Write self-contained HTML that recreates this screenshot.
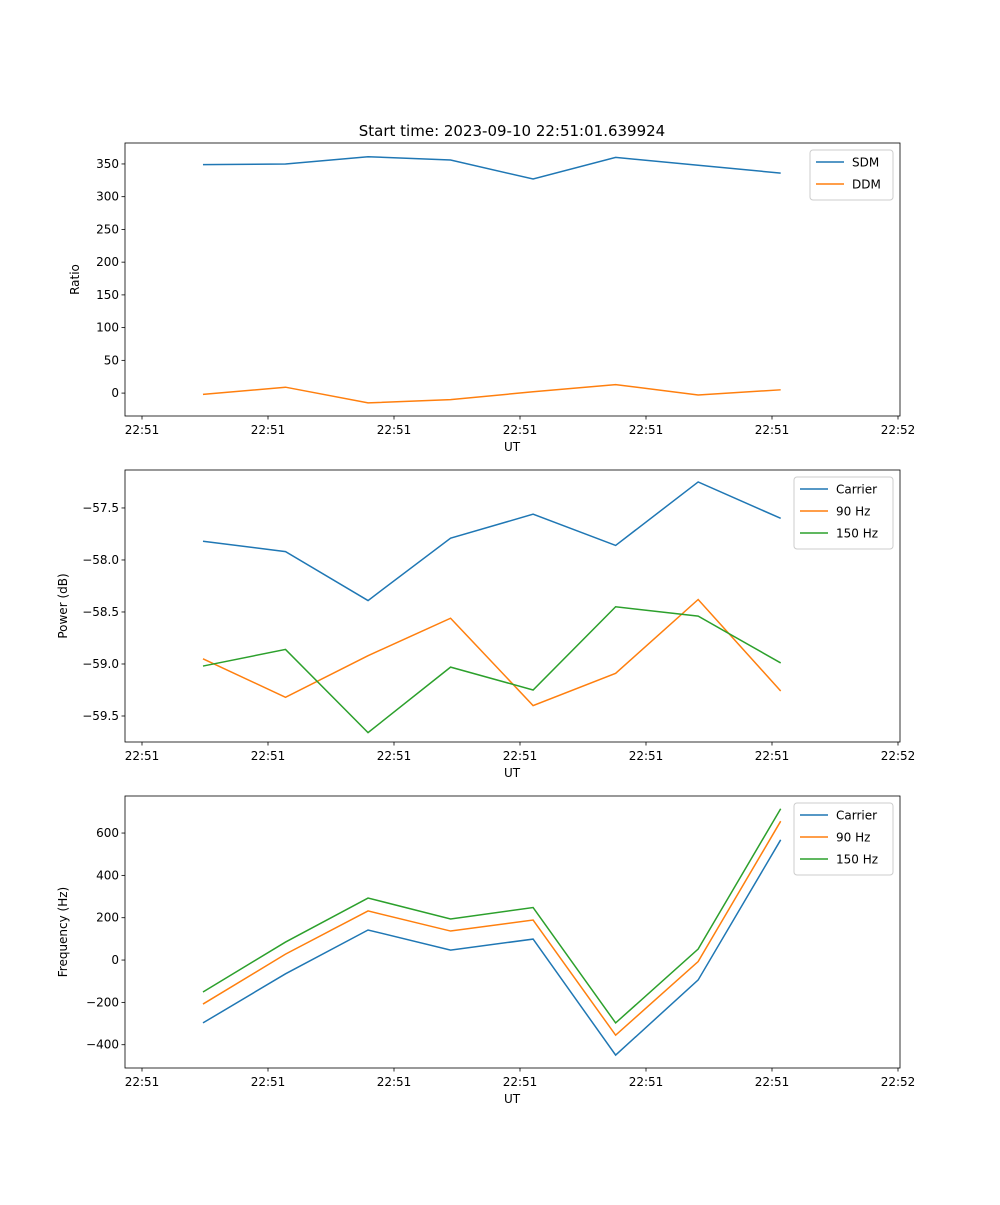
<!DOCTYPE html>
<html><head><meta charset="utf-8"><style>
body{margin:0;background:#fff}
svg{font-family:"DejaVu Sans","Liberation Sans",sans-serif}
</style></head><body>
<svg id="c" width="1000" height="1200" xmlns="http://www.w3.org/2000/svg">
<text x="512" y="136" text-anchor="middle" font-size="15">Start time: 2023-09-10 22:51:01.639924</text>
</svg>
<script>
const times=[4.84,11.39,17.94,24.49,31.04,37.59,44.14,50.69];
const xTickVals=[0,10,20,30,40,50,60];
const xTickLabels=["22:51","22:51","22:51","22:51","22:51","22:51","22:52"];
const sdm=[349,350,361,356,327,360,348,336];
const ddm=[-2,9,-15,-10,2,13,-3,5];
const pCarrier=[-57.82,-57.92,-58.39,-57.79,-57.56,-57.86,-57.25,-57.60];
const p90=[-58.95,-59.32,-58.92,-58.56,-59.40,-59.09,-58.38,-59.26];
const p150=[-59.02,-58.86,-59.66,-59.03,-59.25,-58.45,-58.54,-58.99];
const fCarrier=[-297,-65,142,47,99,-449,-94,568];
const f90=[-208,28,232,137,189,-355,-7,656];
const f150=[-151,85,293,194,248,-297,52,715];
const ticks1=[0,50,100,150,200,250,300,350];
const ticks2=[-59.5,-59.0,-58.5,-58.0,-57.5];
const ticks3=[-400,-200,0,200,400,600];
const svg=document.getElementById('c');
const NS="http://www.w3.org/2000/svg";
function el(t,a,txt){const e=document.createElementNS(NS,t);for(const k in a)e.setAttribute(k,a[k]);if(txt!==undefined)e.textContent=txt;svg.appendChild(e);return e;}
const L=125,R=900;
const xs=t=>142+12.6*t;
function panel(id,top,bot,ymin,ymax,yt,fmt,ylabel,series,names,colors,legW){
  const ys=v=>bot-(v-ymin)/(ymax-ymin)*(bot-top);
  series.forEach((s,i)=>{
    const p=el('polyline',{points:s.map((v,j)=>xs(times[j])+','+ys(v)).join(' '),fill:'none',stroke:colors[i],'stroke-width':1.5});
    
    
  });
  const f=el('rect',{x:L,y:top,width:R-L,height:bot-top,fill:'none',stroke:'#000','stroke-width':0.8});
  
  xTickVals.forEach((v,i)=>{const x=xs(v);el('line',{x1:x,x2:x,y1:bot,y2:bot+3.5,stroke:'#000','stroke-width':0.8});
    const t=el('text',{x:x,y:bot+18,'text-anchor':'middle','font-size':12},xTickLabels[i]);
    });
  yt.forEach(v=>{const y=ys(v);el('line',{x1:L-3.5,x2:L,y1:y,y2:y,stroke:'#000','stroke-width':0.8});
    const t=el('text',{x:L-6,y:y+4,'text-anchor':'end','font-size':12},fmt(v));
    });
  const xl=el('text',{x:512,y:bot+35,'text-anchor':'middle','font-size':12},'UT');
  
  const yx=L-(ylabel==='Ratio'?46:58),yc=(top+bot)/2;
  const yl=el('text',{x:yx,y:yc,'text-anchor':'middle','font-size':12,transform:`rotate(-90 ${yx} ${yc})`},ylabel);
  
  const lx=R-7-legW,ly=top+7,h=names.length*22+6;
  const lb=el('rect',{x:lx,y:ly,width:legW,height:h,fill:'#fff',stroke:'#ccc',rx:3});
  
  names.forEach((n,i)=>{const y=ly+12+i*22;
    el('line',{x1:lx+6,x2:lx+34,y1:y,y2:y,stroke:colors[i],'stroke-width':1.5});
    const t=el('text',{x:lx+42,y:y+4.5,'font-size':12},n);
    });
}
const C=['#1f77b4','#ff7f0e','#2ca02c'];
panel('ratio',143,416,-35,382,ticks1,v=>String(v),'Ratio',[sdm,ddm],['SDM','DDM'],C,83);
panel('power',470,742,-59.75,-57.135,ticks2,v=>(v<0?'\u2212':'')+Math.abs(v).toFixed(1),'Power (dB)',[pCarrier,p90,p150],['Carrier','90 Hz','150 Hz'],C,99);
panel('freq',796,1068,-510,775,ticks3,v=>(v<0?'\u2212':'')+Math.abs(v),'Frequency (Hz)',[fCarrier,f90,f150],['Carrier','90 Hz','150 Hz'],C,99);
</script>
</body></html>
